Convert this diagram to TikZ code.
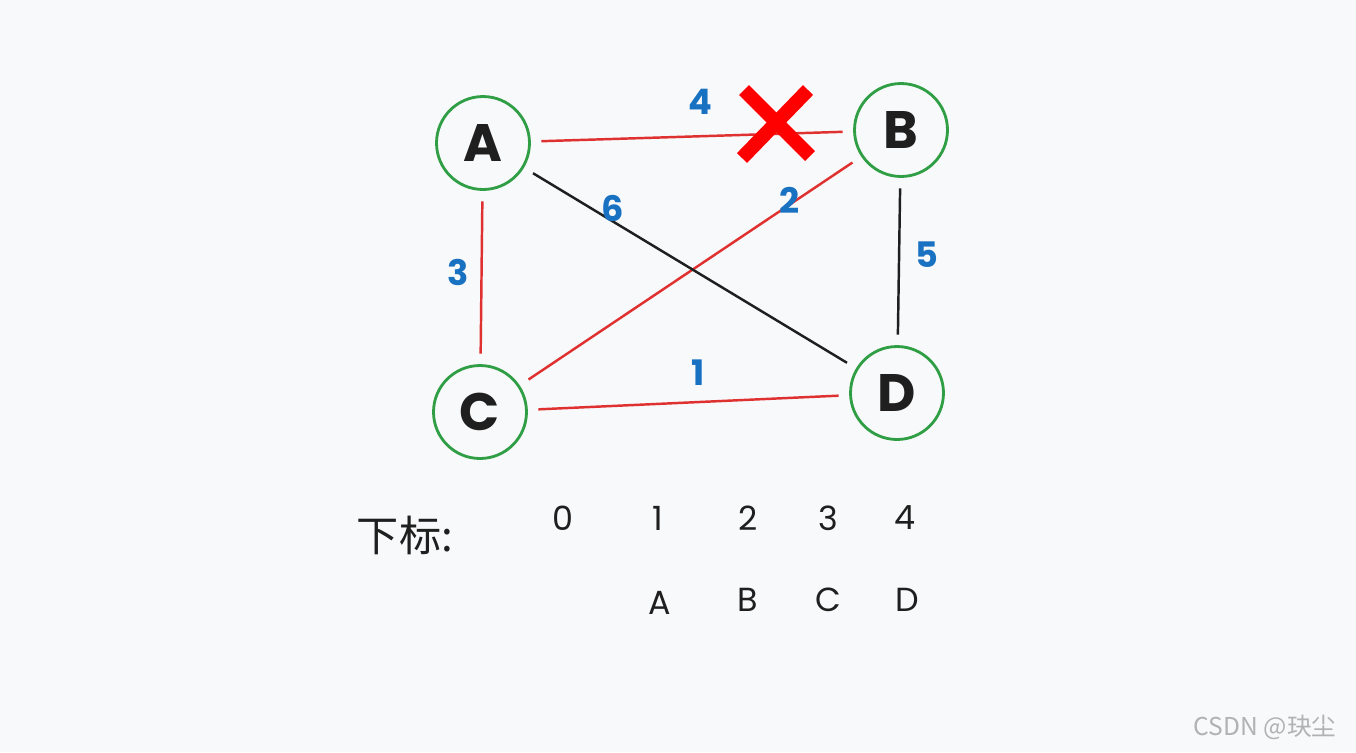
\documentclass[tikz,border=0pt]{standalone}
\usepackage{fontspec}
\setmainfont{Poppins}
\newfontfamily\cjk{Noto Sans CJK SC}
\definecolor{eg}{HTML}{2F9E44}
\definecolor{er}{HTML}{E03131}
\definecolor{eb}{HTML}{1971C2}
\definecolor{bg}{HTML}{F8F9FA}
\begin{document}
\begin{tikzpicture}[x=0.02cm,y=-0.02cm,
  vert/.style={circle,draw=eg,line width=1.6pt,minimum size=1.86cm,inner sep=0pt,font=\fontsize{30}{30}\selectfont\bfseries,text=black!88},
  redE/.style={draw=er,line width=1.4pt,shorten <=6pt,shorten >=6pt},
  blkE/.style={draw=black!88,line width=1.4pt,shorten <=6pt,shorten >=6pt},
  wt/.style={text=eb,font=\fontsize{20}{20}\selectfont\bfseries},
  idx/.style={text=black!88,font=\fontsize{19}{19}\selectfont}]
\fill[bg] (0,0) rectangle (1356,752);
\useasboundingbox (0,0) rectangle (1356,752);
\node[vert] (A) at (483,143) {A};
\node[vert] (B) at (901,130) {B};
\node[vert] (C) at (480,412) {C};
\node[vert] (D) at (897,393) {D};
\draw[redE] (A) -- (B);
\draw[redE] (A) -- (C);
\draw[redE] (C) -- (B);
\draw[redE] (C) -- (D);
\draw[blkE] (A) -- (D);
\draw[blkE] (B) -- (D);
\node[wt] (w4) at (700,102) {4};
\node[wt] (w6) at (613,208) {6};
\node[wt] (w2) at (790,200) {2};
\node[wt] (w3) at (458,272) {3};
\node[wt] (w5) at (927,255) {5};
\node[wt] (w1) at (698,373) {1};
\coordinate (x1) at (744,90);
\coordinate (x2) at (810,156);
\coordinate (x3) at (808,90);
\coordinate (x4) at (742,158);
\draw[red,line width=8pt] (x1) -- (x2);
\draw[red,line width=8pt] (x3) -- (x4);
\node[text=black!88,font=\cjk\fontsize{24}{24}\selectfont] (lab) at (405,535) {下标:};
\node[idx] (i0) at (563,518) {0};
\node[idx] (i1) at (658,518) {1};
\node[idx] (i2) at (748,518) {2};
\node[idx] (i3) at (828,518) {3};
\node[idx] (i4) at (905,518) {4};
\node[idx] (lA) at (660,603) {A};
\node[idx] (lB) at (748,600) {B};
\node[idx] (lC) at (828,600) {C};
\node[idx] (lD) at (907,600) {D};
\node[text=black!30,font=\cjk\fontsize{14}{14}\selectfont] (wm) at (1265,727) {CSDN @玦尘};
\end{tikzpicture}
\end{document}
